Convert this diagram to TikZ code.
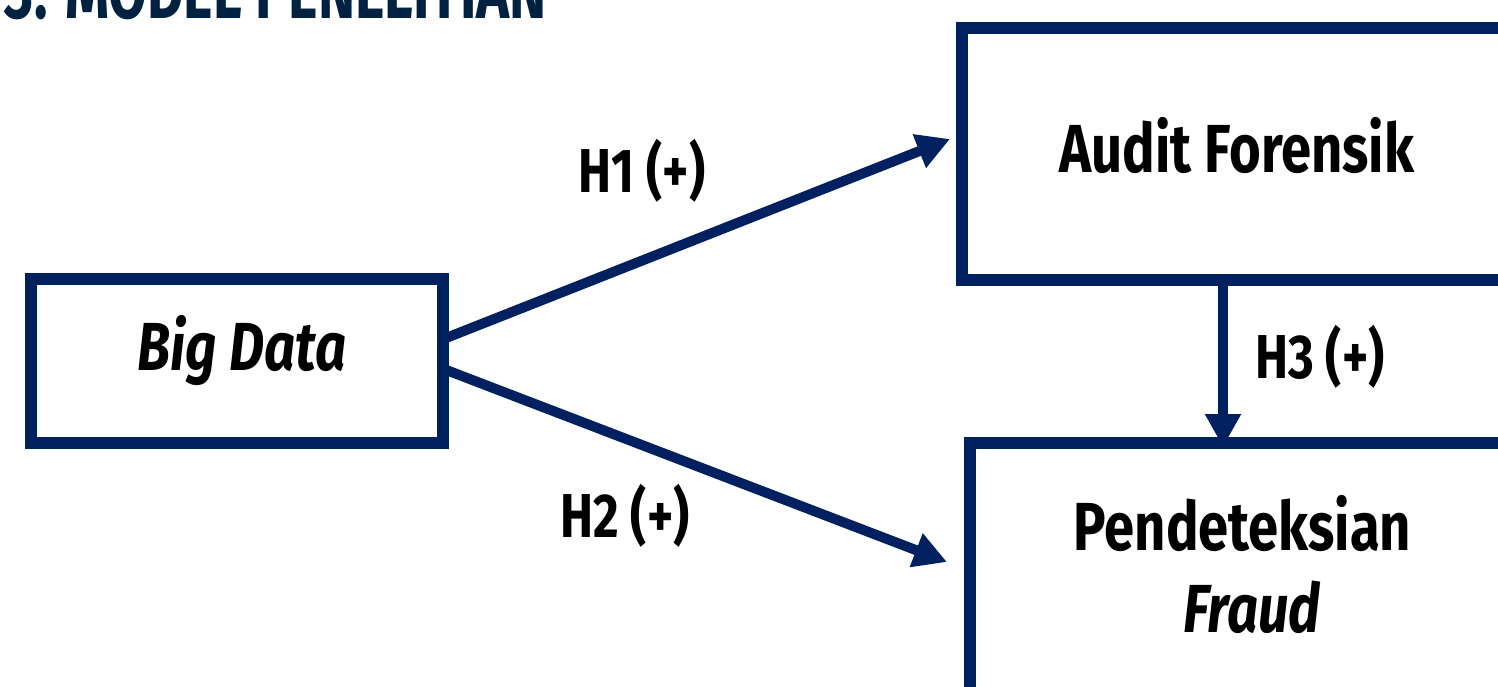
\documentclass[tikz,border=0pt]{standalone}
\usepackage{fontspec}
\newfontfamily\fira{Fira Sans}[FakeStretch=0.8]
\newfontfamily\firatitle{Fira Sans}[FakeStretch=0.7]
\usetikzlibrary{arrows.meta}
\definecolor{navy}{RGB}{0,32,96}
\definecolor{titlenavy}{RGB}{0,33,64}
\tikzset{
  frame/.style={draw=navy, line width=12pt, fill=none, inner sep=0pt},
  boxtext/.style={font=\fira\bfseries\fontsize{68}{82}\selectfont, anchor=base, inner sep=0pt},
  hyplabel/.style={font=\fira\bfseries\fontsize{62}{72}\selectfont, anchor=base, inner sep=0pt},
  conn/.style={draw=navy, line width=10pt, -{Triangle[length=33pt,width=34pt]}},
}
\begin{document}
\begin{tikzpicture}[x=1pt,y=-1pt]
\clip (0,0) rectangle (1498,687);
\fill[white] (0,0) rectangle (1498,687);
% title (cut off at the top, as in the reference)
\node[font=\firatitle\bfseries\fontsize{80}{90}\selectfont, text=titlenavy, anchor=base east, inner sep=0pt] (title) at (547,19) {3. MODEL PENELITIAN};
% boxes
\node[frame, minimum width=412pt, minimum height=164pt] (bd) at (237,361) {};
\node[frame, minimum width=550pt, minimum height=252pt] (af) at (1237,154) {};
\node[frame, minimum width=544pt, minimum height=257pt] (pf) at (1242,571.5) {};
% box texts
\node[boxtext] (bdtext) at (242,370) {\itshape Big Data};
\node[boxtext] (aftext) at (1237,173) {Audit Forensik};
\node[boxtext] (pftext) at (1242.5,550) {Pendeteksian};
\node[boxtext] (pftext2) at (1252,632) {\itshape Fraud};
% connectors
\draw[conn] ([xshift=-8pt,yshift=21pt]bd.east) -- ([xshift=-6pt,yshift=15pt]af.west);
\draw[conn] ([xshift=-8pt,yshift=-7pt]bd.east) -- ([xshift=-17pt,yshift=9.5pt]pf.west);
\draw[conn] ([xshift=-14pt]af.south) -- ([xshift=-19pt,yshift=-10pt]pf.north);
% hypothesis labels
\node[hyplabel] (h1) at (642,193) {H1 (+)};
\node[hyplabel] (h2) at (625,537) {H2 (+)};
\node[hyplabel] (h3) at (1320,378) {H3 (+)};
\end{tikzpicture}
\end{document}
